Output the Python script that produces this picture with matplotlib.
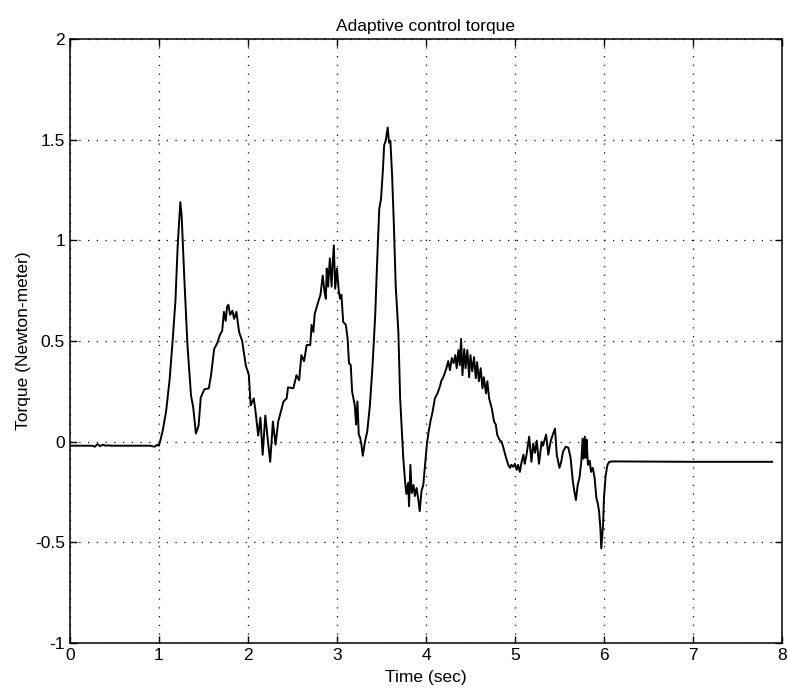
import matplotlib
matplotlib.use("Agg")
import matplotlib.pyplot as plt
from matplotlib.ticker import FuncFormatter

plt.rcParams["font.family"] = ["Liberation Sans", "DejaVu Sans"]
plt.rcParams["axes.unicode_minus"] = False

# torque trace (time in sec, torque in N-m)
time_s = [
    0.0, 0.25, 0.28, 0.31, 0.34, 0.37, 0.40, 0.43, 0.46, 0.90, 0.95, 0.98, 1.0,
    1.04, 1.08, 1.12, 1.155, 1.185, 1.21, 1.24, 1.255, 1.285, 1.32, 1.36, 1.385,
    1.415, 1.445, 1.47, 1.51, 1.56, 1.585, 1.62, 1.655, 1.685, 1.71, 1.73, 1.75,
    1.765, 1.78, 1.80, 1.825, 1.845, 1.87, 1.90, 1.935, 1.975, 2.01, 2.03, 2.065,
    2.085, 2.115, 2.14, 2.165, 2.195, 2.225, 2.25, 2.28, 2.31, 2.34,
    2.40, 2.435, 2.45, 2.51, 2.545, 2.575, 2.60, 2.63, 2.66, 2.70, 2.715, 2.735,
    2.75, 2.79, 2.815, 2.84, 2.86, 2.875, 2.885, 2.90, 2.92, 2.94, 2.95, 2.965,
    2.98, 3.00, 3.02, 3.035, 3.05, 3.07, 3.10, 3.12, 3.135, 3.155, 3.17, 3.185,
    3.20, 3.215, 3.23, 3.245, 3.26, 3.275, 3.29, 3.315, 3.34, 3.37, 3.40, 3.43,
    3.45, 3.475, 3.495, 3.515, 3.53, 3.55, 3.57, 3.585, 3.60, 3.62, 3.64, 3.66,
    3.69, 3.71, 3.73, 3.745, 3.765, 3.78, 3.80, 3.81, 3.825, 3.84, 3.86, 3.875,
    3.895, 3.915, 3.93, 3.95, 3.97, 3.99, 4.01, 4.03, 4.05, 4.075, 4.10, 4.13,
    4.16, 4.175, 4.195, 4.215, 4.23, 4.25, 4.27, 4.29, 4.31, 4.33, 4.345, 4.365,
    4.38, 4.395, 4.41, 4.43, 4.445, 4.465, 4.485, 4.50, 4.52, 4.54, 4.56, 4.575,
    4.595, 4.615, 4.635, 4.65, 4.675, 4.69, 4.71, 4.74, 4.765, 4.785, 4.80,
    4.825, 4.85, 4.87, 4.90, 4.925, 4.945, 4.96, 4.98, 5.0, 5.02, 5.035, 5.055,
    5.075, 5.095, 5.11, 5.13, 5.16, 5.185, 5.205, 5.225, 5.245, 5.27, 5.30,
    5.315, 5.35, 5.375, 5.40, 5.425, 5.45, 5.47, 5.50, 5.52, 5.54, 5.57, 5.60,
    5.625, 5.65, 5.665, 5.685, 5.705, 5.725, 5.745, 5.76, 5.77, 5.785, 5.795,
    5.805, 5.82, 5.84, 5.855, 5.875, 5.895, 5.915, 5.93, 5.945, 5.96, 5.97,
    5.99, 6.0, 6.02, 6.04, 6.06, 6.1, 7.0, 7.89,
]
torque = [
    -0.02, -0.02, -0.025, -0.012, -0.022, -0.015, -0.02, -0.018, -0.02, -0.02, -0.025, -0.015, -0.02,
    0.05, 0.15, 0.31, 0.51, 0.70, 0.97, 1.19, 1.12, 0.81, 0.48, 0.23, 0.17,
    0.04, 0.08, 0.22, 0.26, 0.265, 0.33, 0.46, 0.49, 0.53, 0.55, 0.645, 0.60,
    0.67, 0.68, 0.63, 0.65, 0.61, 0.645, 0.545, 0.50, 0.38, 0.33, 0.18, 0.215,
    0.15, 0.03, 0.12, -0.065, 0.13, 0.0, -0.10, 0.10, -0.015, 0.10,
    0.20, 0.215, 0.27, 0.265, 0.33, 0.305, 0.43, 0.40, 0.48, 0.48, 0.58, 0.545,
    0.635, 0.695, 0.73, 0.825, 0.745, 0.71, 0.86, 0.77, 0.91, 0.77, 0.875, 0.975,
    0.76, 0.86, 0.75, 0.71, 0.73, 0.595, 0.58, 0.51, 0.39, 0.38, 0.25, 0.215,
    0.18, 0.085, 0.20, 0.035, 0.02, -0.015, -0.07, 0.0, 0.05, 0.18, 0.38, 0.63,
    0.875, 1.155, 1.205, 1.34, 1.47, 1.50, 1.56, 1.485, 1.495, 1.32, 1.07, 0.775,
    0.545, 0.215, 0.05, -0.08, -0.195, -0.26, -0.205, -0.32, -0.115, -0.255, -0.215, -0.27,
    -0.23, -0.29, -0.345, -0.245, -0.215, -0.115, -0.015, 0.05, 0.10, 0.15, 0.215, 0.24,
    0.28, 0.305, 0.32, 0.345, 0.365, 0.40, 0.355, 0.415, 0.39, 0.43, 0.365, 0.455,
    0.38, 0.51, 0.33, 0.46, 0.365, 0.455, 0.32, 0.43, 0.35, 0.42, 0.315, 0.395,
    0.30, 0.365, 0.265, 0.32, 0.24, 0.30, 0.215, 0.165, 0.10, 0.085, 0.035,
    0.01, 0.0, -0.03, -0.08, -0.115, -0.13, -0.115, -0.125, -0.11, -0.14, -0.115, -0.15,
    -0.10, -0.065, -0.11, -0.065, 0.025, -0.10, -0.01, -0.055, 0.005, -0.11, 0.0,
    -0.02, 0.035, -0.065, 0.0, 0.035, 0.065, -0.065, -0.13, -0.10, -0.05, -0.025, -0.03,
    -0.08, -0.195, -0.24, -0.29, -0.215, -0.18, -0.10, 0.015, -0.085, 0.025, -0.08,
    0.01, -0.115, -0.095, -0.15, -0.13, -0.18, -0.28, -0.305, -0.345, -0.43, -0.53,
    -0.415, -0.28, -0.165, -0.115, -0.10, -0.098, -0.10, -0.10,
]

x_ticks = [0, 1, 2, 3, 4, 5, 6, 7, 8]
y_ticks = [-1, -0.5, 0, 0.5, 1, 1.5, 2]

fig = plt.figure(figsize=(7.88, 6.96), dpi=100)
ax = fig.add_axes([0.0888, 0.0761, 0.9035, 0.8679])

ax.plot(time_s, torque, color="black", lw=1.4)

ax.set_xlim(0, 8)
ax.set_ylim(-1, 2)
ax.set_xticks(x_ticks)
ax.set_yticks(y_ticks)
ax.yaxis.set_major_formatter(FuncFormatter(lambda v, p: "%g" % v))
ax.tick_params(direction="in", top=True, right=True, labelsize=12.5, length=5, width=1)
ax.grid(True, color="black", linestyle=(0, (1, 6)), linewidth=0.9)
for s in ax.spines.values():
    s.set_linewidth(1.1)

ax.set_title("Adaptive control torque", fontsize=12.5, pad=6)
ax.set_xlabel("Time (sec)", fontsize=12.5, labelpad=5)
ax.set_ylabel("Torque (Newton-meter)", fontsize=12.5, labelpad=3)

fig.savefig("out.png", dpi=100)
